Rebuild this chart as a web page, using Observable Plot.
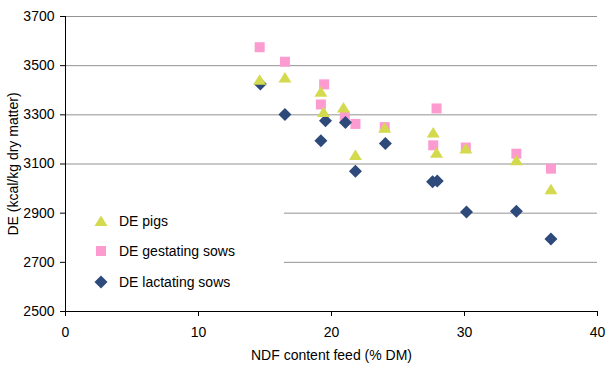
<!DOCTYPE html>
<html>
<head>
<meta charset="utf-8">
<script src="https://cdn.jsdelivr.net/npm/d3@7"></script>
<script src="https://cdn.jsdelivr.net/npm/@observablehq/plot@0.6"></script>
<style>
  html, body { margin: 0; padding: 0; background: #fff; }
  #wrap { position: relative; width: 610px; height: 377px; font-family: "Liberation Sans", Arial, sans-serif; }
  #legend { position: absolute; left: 66px; top: 176px; }
</style>
</head>
<body>
<div id="wrap"><div id="chart"></div><div id="legend"></div></div>
<script>
// ---- data ----
const seriesNames = ["DE pigs", "DE gestating sows", "DE lactating sows"];
const seriesColors = ["#d4da4e", "#fb9bd0", "#2e4a7b"];

const pigsNDF = [14.6, 16.5, 19.2, 19.4, 20.9, 21.8, 24.0, 27.65, 27.9, 30.1, 33.9, 36.5];
const pigsDE  = [3443, 3452, 3394, 3312, 3330, 3137, 3247, 3228, 3146, 3163, 3115, 2997];

const gestNDF = [14.6, 16.5, 19.45, 19.2, 21.0, 21.8, 24.0, 27.9, 27.65, 30.1, 33.9, 36.5];
const gestDE  = [3575, 3516, 3424, 3342, 3293, 3263, 3250, 3326, 3176, 3167, 3142, 3081];

const lactNDF = [14.65, 16.5, 19.2, 19.55, 21.05, 21.8, 24.05, 27.6, 27.95, 30.15, 33.9, 36.5];
const lactDE  = [3425, 3301, 3195, 3276, 3269, 3071, 3183, 3028, 3031, 2905, 2908, 2795];

const xTicks = [0, 10, 20, 30, 40];
const yTicks = [2500, 2700, 2900, 3100, 3300, 3500, 3700];

// ---- symbols ----
const triPath = "M0,-5.5L6.5,5L-6.5,5Z";
const sqPath = "M-5,-5H5V5H-5Z";
const diaPath = "M0,-6.5L6.5,0L0,6.5L-6.5,0Z";
function pathSymbol(pts) {
  return { draw(ctx) { ctx.moveTo(pts[0][0], pts[0][1]); for (let i = 1; i < pts.length; i++) ctx.lineTo(pts[i][0], pts[i][1]); ctx.closePath(); } };
}
const triSym = pathSymbol([[0,-5.5],[6.5,5],[-6.5,5]]);
const sqSym = pathSymbol([[-5,-5],[5,-5],[5,5],[-5,5]]);
const diaSym = pathSymbol([[0,-6.5],[6.5,0],[0,6.5],[-6.5,0]]);

const pigs = pigsNDF.map((x, i) => ({x, y: pigsDE[i]}));
const gest = gestNDF.map((x, i) => ({x, y: gestDE[i]}));
const lact = lactNDF.map((x, i) => ({x, y: lactDE[i]}));

const chart = Plot.plot({
  width: 610,
  height: 377,
  marginLeft: 65,
  marginRight: 13,
  marginTop: 16,
  marginBottom: 66,
  style: { fontFamily: "'Liberation Sans', Arial, sans-serif", fontSize: "14px", color: "#000", background: "#fff" },
  x: { domain: [0, 40] },
  y: { domain: [2500, 3700] },
  marks: [
    Plot.gridY(yTicks.filter(d => d > 2500), { stroke: "#939393", strokeOpacity: 1 }),
    Plot.axisY(yTicks, { tickSize: 5, tickPadding: 6, tickFormat: d => String(d), label: "DE (kcal/kg dry matter)", labelAnchor: "center", labelOffset: 57, labelArrow: "none" }),
    Plot.axisX(xTicks, { tickSize: 5, tickPadding: 11, tickFormat: d => String(d), label: "NDF content feed (% DM)", labelAnchor: "center", labelOffset: 48.5, labelArrow: "none" }),
    Plot.ruleX([0], { stroke: "#000" }),
    Plot.ruleY([2500], { stroke: "#000" }),
    Plot.dot(gest, { x: "x", y: "y", symbol: sqSym, fill: seriesColors[1], stroke: "none" }),
    Plot.dot(lact, { x: "x", y: "y", symbol: diaSym, fill: seriesColors[2], stroke: "none" }),
    Plot.dot(pigs, { x: "x", y: "y", symbol: triSym, fill: seriesColors[0], stroke: "none" })
  ]
});
document.getElementById("chart").appendChild(chart);

// ---- legend ----
const paths = [triPath, sqPath, diaPath];
const rowY = [45, 75, 106];
const leg = d3.select("#legend").append("svg").attr("width", 218).attr("height", 124);
leg.append("rect").attr("width", 218).attr("height", 124).attr("fill", "#fff");
seriesNames.forEach((name, i) => {
  leg.append("path").attr("d", paths[i]).attr("fill", seriesColors[i])
    .attr("transform", `translate(35,${rowY[i]})`);
  leg.append("text").attr("x", 53).attr("y", rowY[i] + 5)
    .attr("font-family", "'Liberation Sans', Arial, sans-serif").attr("font-size", "14px")
    .attr("fill", "#000").text(name);
});
</script>
</body>
</html>
